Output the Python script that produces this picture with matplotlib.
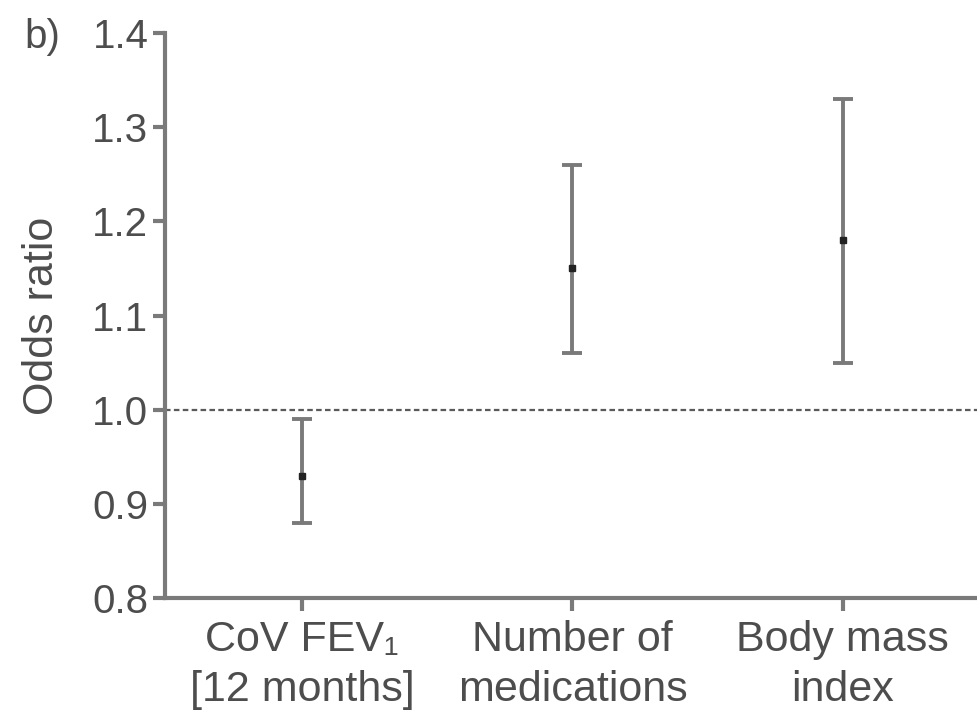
import numpy as np
import matplotlib.pyplot as plt

# Odds ratio con intervalo de confianza
categories = ["CoV FEV\u2081\n[12 months]", "Number of\nmedications", "Body mass\nindex"]
odds = [0.93, 1.15, 1.18]
lower = [0.88, 1.06, 1.05]
upper = [0.99, 1.26, 1.33]
yticks = [0.8, 0.9, 1.0, 1.1, 1.2, 1.3, 1.4]

plt.rcParams['font.family'] = ['Liberation Sans', 'DejaVu Sans']
text_col = '#4d4d4d'
line_col = '#7a7a7a'

fig = plt.figure(figsize=(9.78, 7.15), dpi=100)
ax = fig.add_axes([0.1687, 0.1636, 0.8313, 0.7902])

x = np.arange(len(categories))
odds = np.array(odds)
yerr = [odds - np.array(lower), np.array(upper) - odds]

ax.axhline(1.0, color='#5a5a5a', lw=1.6, ls=(0, (2.5, 1.5)), zorder=1)
ax.errorbar(x, odds, yerr=yerr, fmt='none', ecolor=line_col, elinewidth=2.8,
            capsize=7, capthick=2.8, zorder=2)
ax.plot(x, odds, 's', color='#222222', ms=4, zorder=3)

ax.set_xlim(-0.507, 2.5)
ax.set_ylim(0.8, 1.4)
ax.set_yticks(yticks)
ax.set_yticklabels([f"{v:.1f}" for v in yticks])
ax.set_xticks(x)
ax.set_xticklabels(categories, linespacing=1.3, fontsize=31)

for side in ['top', 'right']:
    ax.spines[side].set_visible(False)
for side in ['left', 'bottom']:
    ax.spines[side].set_color(line_col)
    ax.spines[side].set_linewidth(3)

ax.tick_params(axis='both', colors=line_col, labelcolor=text_col, width=3)
ax.tick_params(axis='y', length=9, pad=3, labelsize=29)
ax.tick_params(axis='x', length=9, pad=7)

ax.set_ylabel("Odds ratio", fontsize=31, color=text_col, labelpad=22)
fig.text(0.025, 0.975, "b)", fontsize=29, color=text_col, va='top', ha='left')

fig.savefig("out.png", dpi=100)
